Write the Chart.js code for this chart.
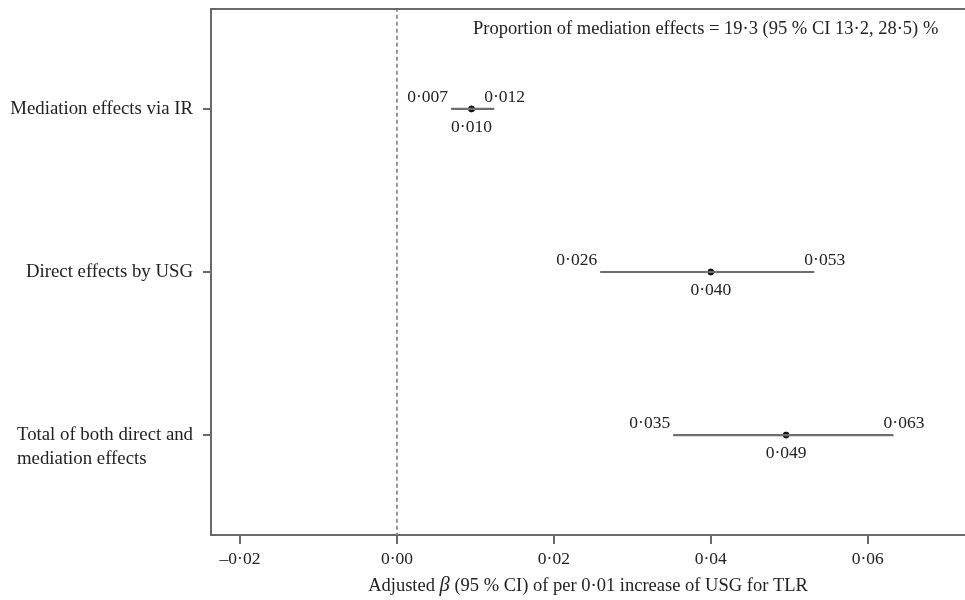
<!DOCTYPE html>
<html>
<head>
<meta charset="utf-8">
<script src="https://cdn.jsdelivr.net/npm/chart.js@4"></script>
<style>
  html, body { margin: 0; padding: 0; background: #fff; overflow: hidden; }
  #wrap { width: 965px; height: 600px; position: relative; }
  #forest { display: block; }
</style>
</head>
<body>
<div id="wrap"><canvas id="forest"></canvas></div>
<script>
// data
const categories = [['Mediation effects via IR'], ['Direct effects by USG'], ['Total of both direct and', 'mediation effects']];
const estimates = [0.0095, 0.040, 0.0496];
const lowerCI = [0.0069, 0.0259, 0.0352];
const upperCI = [0.0124, 0.0532, 0.0633];
const estimateLabels = ['0·010', '0·040', '0·049'];
const lowerLabels = ['0·007', '0·026', '0·035'];
const upperLabels = ['0·012', '0·053', '0·063'];
const xTicks = [-0.02, 0, 0.02, 0.04, 0.06];
const xTickLabels = ['–0·02', '0·00', '0·02', '0·04', '0·06'];
const proportionText = 'Proportion of mediation effects = 19·3 (95 % CI 13·2, 28·5) %';

const FONT = '"Liberation Serif", "Times New Roman", serif';
const TEXT = '#222';
const AXIS = '#6a6a6a';

const rows = categories.map((c, i) => i + 1);

const ciSets = rows.map((r, i) => ({
    label: 'ci' + r,
    data: [{ x: lowerCI[i], y: r }, { x: upperCI[i], y: r }],
    showLine: true,
    borderColor: '#6f6f6f',
    borderWidth: 2.2,
    pointRadius: 0
}));

const refLine = {
    label: 'zero',
    data: [{ x: 0, y: 0.38 }, { x: 0, y: 3.62 }],
    showLine: true,
    borderColor: '#777',
    borderWidth: 1.5,
    borderDash: [4, 3],
    pointRadius: 0
};

const pointSet = {
    label: 'estimate',
    data: rows.map((r, i) => ({ x: estimates[i], y: r })),
    backgroundColor: '#111',
    borderColor: '#111',
    pointRadius: 3
};

// category labels, value labels, top border, note and axis title
const annotate = {
    id: 'annotate',
    afterDraw(chart) {
        const { ctx, chartArea, scales } = chart;
        const sx = scales.x, sy = scales.y;
        ctx.save();
        ctx.strokeStyle = AXIS;
        ctx.lineWidth = 2;
        ctx.beginPath();
        ctx.moveTo(chartArea.left, chartArea.top);
        ctx.lineTo(chartArea.right, chartArea.top);
        ctx.stroke();

        ctx.fillStyle = TEXT;
        ctx.textBaseline = 'middle';

        // y categories: block right-aligned, lines left-aligned, first line on the tick
        ctx.font = '18.8px ' + FONT;
        ctx.textAlign = 'left';
        rows.forEach((r, i) => {
            const y = sy.getPixelForValue(r);
            const w = Math.max(...categories[i].map(t => ctx.measureText(t).width));
            const x0 = chartArea.left - 18 - w;
            categories[i].forEach((t, k) => ctx.fillText(t, x0, y + k * 24));
        });

        ctx.font = '17.5px ' + FONT;
        rows.forEach((r, i) => {
            const y = sy.getPixelForValue(r);
            ctx.textAlign = 'right';
            ctx.fillText(lowerLabels[i], sx.getPixelForValue(lowerCI[i]) - 3, y - 12);
            ctx.textAlign = 'left';
            ctx.fillText(upperLabels[i], sx.getPixelForValue(upperCI[i]) - 10, y - 12);
            ctx.textAlign = 'center';
            ctx.fillText(estimateLabels[i], sx.getPixelForValue(estimates[i]), y + 18);
        });

        ctx.font = '18.5px ' + FONT;
        ctx.textAlign = 'left';
        ctx.fillText(proportionText, 473, 29);

        // x axis title with italic beta
        const parts = [
            { t: 'Adjusted ', f: '18.5px ' + FONT },
            { t: 'β', f: 'italic 20.5px ' + FONT },
            { t: ' (95 % CI) of per 0·01 increase of USG for TLR', f: '18.5px ' + FONT }
        ];
        let total = 0;
        parts.forEach(p => { ctx.font = p.f; p.w = ctx.measureText(p.t).width; total += p.w; });
        let x = (chartArea.left + chartArea.right) / 2 - total / 2;
        parts.forEach(p => { ctx.font = p.f; ctx.fillText(p.t, x, 586); x += p.w; });
        ctx.restore();
    }
};

new Chart(document.getElementById('forest'), {
    type: 'scatter',
    data: { datasets: [refLine, ...ciSets, pointSet] },
    options: {
        responsive: true,
        maintainAspectRatio: false,
        animation: false,
        layout: { autoPadding: false, padding: { top: 9, right: 0, bottom: 0, left: 0 } },
        plugins: { legend: { display: false }, tooltip: { enabled: false } },
        scales: {
            x: {
                min: -0.0237,
                max: 0.0724,
                afterBuildTicks: s => { s.ticks = xTicks.map(v => ({ value: v })); },
                afterFit: s => { s.height = 65; s.paddingLeft = 0; s.paddingRight = 0; },
                grid: { display: true, drawOnChartArea: false, drawTicks: true, tickLength: 9, color: AXIS, lineWidth: 2 },
                border: { display: true, color: AXIS, width: 2 },
                ticks: {
                    color: TEXT,
                    font: { family: FONT, size: 17.5 },
                    padding: 5,
                    maxRotation: 0,
                    callback: (v) => {
                        const k = xTicks.findIndex(t => Math.abs(t - v) < 1e-9);
                        return k >= 0 ? xTickLabels[k] : '';
                    }
                }
            },
            y: {
                reverse: true,
                min: 0.387,
                max: 3.613,
                afterBuildTicks: s => { s.ticks = rows.map(v => ({ value: v })); },
                afterFit: s => { s.width = 211; s.paddingTop = 0; s.paddingBottom = 0; },
                grid: { display: true, drawOnChartArea: false, drawTicks: true, tickLength: 8, color: AXIS, lineWidth: 2 },
                border: { display: true, color: AXIS, width: 2 },
                ticks: { display: false }
            }
        }
    },
    plugins: [annotate]
});
</script>
</body>
</html>
